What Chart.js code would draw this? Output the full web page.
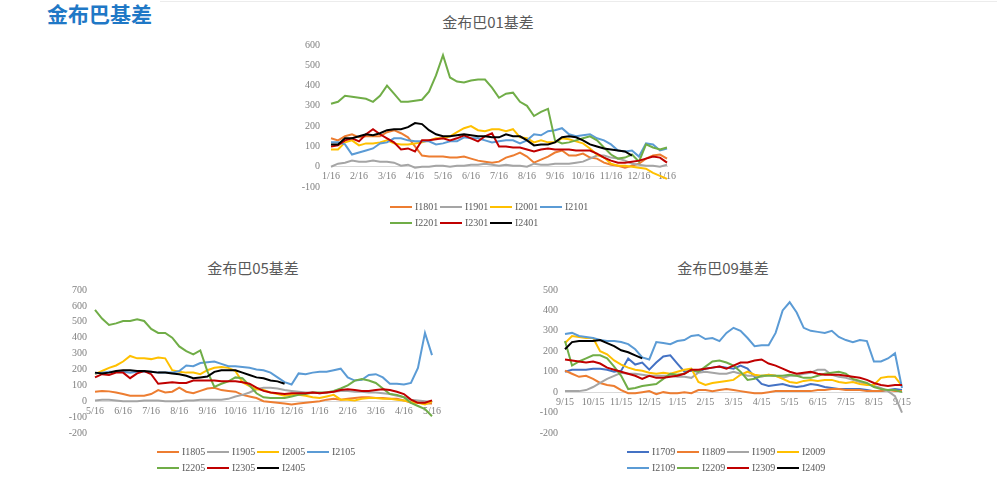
<!DOCTYPE html>
<html>
<head>
<meta charset="utf-8">
<script src="https://cdn.jsdelivr.net/npm/chart.js@4.4.0/dist/chart.umd.min.js"></script>
<style>
  body { margin: 0; width: 997px; height: 477px; background: #fff; position: relative; overflow: hidden; }
  canvas { position: absolute; }
  .topline { position: absolute; left: 160px; top: 1px; width: 837px; height: 1px; background: #ececec; }
  h1 { position: absolute; left: 47px; top: 0; margin: 0; font: bold 21px/26px 'Noto Sans CJK SC'; color: #1f78c6; }
  .title { position: absolute; font: 15px/20px 'Noto Sans CJK SC'; color: #595959; transform: translateX(-50%); white-space: nowrap; }
  .lg { position: absolute; height: 12px; font: 10px/12px 'Liberation Serif', serif; color: #595959; white-space: nowrap; }
  .lg i { position: absolute; left: 0; top: 5px; width: 22px; height: 2px; }
  .lg b { position: absolute; left: 25px; top: 0; font-weight: normal; }
</style>
</head>
<body>
<div class="topline"></div>
<h1>金布巴基差</h1>
<div class="title" style="left:488px;top:12px">金布巴01基差</div>
<div class="title" style="left:253px;top:258px">金布巴05基差</div>
<div class="title" style="left:723px;top:258px">金布巴09基差</div>
<canvas id="c01" width="396" height="162" style="left:291px;top:35px"></canvas>
<canvas id="c05" width="392" height="163" style="left:60px;top:280px"></canvas>
<canvas id="c09" width="392" height="163" style="left:530px;top:280px"></canvas>
<script>
// 月份刻度（每月4个周度点）
var ticks01 = ['1/16','2/16','3/16','4/16','5/16','6/16','7/16','8/16','9/16','10/16','11/16','12/16','1/16'];
var ticks05 = ['5/16','6/16','7/16','8/16','9/16','10/16','11/16','12/16','1/16','2/16','3/16','4/16','5/16'];
var ticks09 = ['9/15','10/15','11/15','12/15','1/15','2/15','3/15','4/15','5/15','6/15','7/15','8/15','9/15'];

// 01合约基差
var names01 = ['I1801','I1901','I2001','I2101','I2201','I2301','I2401'];
var i1801 = [140,130,150,160,145,150,150,150,170,180,165,145,100,55,50,50,50,45,45,50,40,30,25,20,25,45,55,70,50,20,35,50,70,80,55,55,65,45,40,20,10,5,-5,5,15,40,55,60,40];
var i1901 = [0,15,20,30,25,25,30,25,25,20,5,10,-5,0,0,5,5,0,5,5,10,10,15,10,5,10,5,5,0,15,10,10,15,15,15,20,25,40,55,55,45,40,30,15,10,5,5,0,10];
var i2001 = [85,85,120,130,105,115,115,120,130,115,110,110,115,120,130,140,140,150,170,190,200,180,175,185,185,175,185,145,140,120,130,120,120,140,135,125,115,90,60,45,15,5,5,0,-5,-10,-30,-45,-60];
var i2101 = [120,120,110,60,70,80,90,115,120,140,140,130,125,125,125,110,115,125,125,145,140,140,130,120,125,130,130,115,130,160,155,175,180,190,160,150,155,160,140,130,110,80,75,80,50,115,110,80,90];
var i2201 = [310,320,350,345,340,335,320,350,400,360,320,320,325,330,370,450,550,440,420,415,425,430,430,390,340,360,365,320,300,250,270,285,130,115,120,130,140,150,130,95,60,40,45,60,25,110,95,85,95];
var i2301 = [100,105,130,140,125,160,185,160,140,120,85,90,75,130,130,135,140,130,140,155,140,125,150,165,100,100,95,95,85,75,85,90,85,85,85,80,80,80,65,45,30,20,20,25,30,40,50,45,20];
var i2401 = [110,110,140,140,150,160,155,165,180,185,185,195,215,210,180,160,150,150,155,160,155,150,150,145,145,160,150,150,130,105,110,110,120,145,150,145,130,110,100,90,85,80,75,55,null,null,null,null,null];

// 05合约基差
var names05 = ['I1805','I1905','I2005','I2105','I2205','I2305','I2405'];
var i1805 = [60,65,62,55,45,35,35,35,45,70,55,60,85,60,50,65,80,85,70,65,60,40,30,20,0,-5,-10,-15,-20,-15,-10,-5,0,10,15,10,15,20,25,25,20,20,15,15,5,-10,-10,-15,-15];
var i1905 = [5,10,10,5,0,0,0,5,5,5,0,0,0,5,5,10,10,10,10,15,30,40,55,75,85,85,80,70,65,60,55,55,50,55,60,65,65,60,60,55,55,50,45,35,25,10,5,0,-5];
var i2005 = [170,190,210,225,250,285,270,270,265,275,270,195,185,180,180,170,195,210,215,210,190,120,95,75,70,55,45,35,40,40,35,25,20,30,40,10,10,5,15,20,20,15,15,10,5,-5,-10,-20,0];
var i2105 = [175,180,185,185,185,180,185,185,185,180,180,180,190,225,220,240,245,250,235,220,220,215,210,200,195,180,150,120,105,175,170,180,185,185,195,205,150,130,135,165,170,150,110,110,105,115,210,430,290];
var i2205 = [575,520,480,490,505,505,515,505,455,430,430,400,345,315,295,320,190,90,110,125,150,145,100,50,25,20,20,20,30,40,45,55,55,55,65,80,100,130,140,130,115,80,45,40,25,-10,-30,-50,-95];
var i2305 = [150,170,165,180,180,145,175,190,170,110,115,120,115,115,130,130,130,130,125,125,125,120,110,85,65,55,50,45,50,50,50,55,50,55,60,70,75,70,65,65,70,75,70,60,45,10,-10,-10,5];
var i2405 = [180,175,180,190,195,195,190,190,185,180,180,175,170,160,145,150,155,185,195,195,195,180,165,150,145,130,125,110,null,null,null,null,null,null,null,null,null,null,null,null,null,null,null,null,null,null,null,null,null];

// 09合约基差
var names09 = ['I1709','I1809','I1909','I2009','I2109','I2209','I2309','I2409'];
var i1709 = [100,110,110,110,115,115,110,100,105,165,135,145,110,145,175,180,140,100,105,100,115,120,125,120,115,130,115,75,40,30,35,40,30,25,30,40,35,25,20,15,15,15,15,10,5,5,10,15,10];
var i1809 = [105,90,75,80,65,45,35,30,10,-5,-5,0,5,-10,0,-5,-5,0,-5,10,10,5,10,15,10,5,0,-5,-5,0,5,5,5,5,5,5,10,10,15,15,10,10,10,5,5,5,10,5,5];
var i1909 = [5,5,5,10,25,45,65,80,95,90,90,85,80,80,80,80,75,75,70,95,100,95,90,90,100,90,80,80,75,85,80,70,80,80,90,95,110,110,85,75,70,60,50,40,30,20,5,-20,-100];
var i2009 = [240,275,270,265,265,200,185,155,135,120,110,105,95,90,95,90,100,110,115,50,35,45,50,55,60,85,100,85,80,85,80,65,50,45,55,60,55,60,60,50,45,50,40,35,35,70,75,75,30];
var i2109 = [285,290,275,270,265,255,250,250,245,235,210,170,160,245,240,235,250,255,275,280,260,265,250,290,315,300,265,225,230,230,290,400,440,390,315,300,295,290,300,270,255,245,255,250,150,150,165,190,20];
var i2209 = [250,130,150,165,180,180,165,125,80,15,20,30,35,40,65,90,85,90,110,100,125,150,155,145,130,100,60,65,80,80,80,80,85,80,70,70,80,90,95,100,90,65,55,45,25,15,10,10,0];
var i2309 = [160,155,150,145,150,140,120,110,100,90,80,65,80,70,70,75,80,90,110,110,115,120,125,115,130,145,145,155,160,140,130,115,100,90,95,100,90,85,85,85,80,75,70,60,45,35,30,35,35];
var i2409 = [210,245,250,250,250,255,240,225,205,195,180,165,null,null,null,null,null,null,null,null,null,null,null,null,null,null,null,null,null,null,null,null,null,null,null,null,null,null,null,null,null,null,null,null,null,null,null,null,null];

var orange = '#ed7d31', gray = '#a5a5a5', yellow = '#ffc000', blue = '#5b9bd5',
    green = '#70ad47', red = '#c00000', black = '#000000', navy = '#4472c4';

function weekLabels(months) {
    var out = [];
    months.forEach(function (m, k) {
        out.push(m);
        if (k < months.length - 1) out.push('', '', '');
    });
    return out;
}

function makeChart(id, months, names, series, colors, yMin, yMax, yWidth, gap) {
    var n = series.length;
    var datasets = series.map(function (d, k) {
        return {
            label: names[k],
            data: d,
            borderColor: colors[k],
            backgroundColor: colors[k],
            borderWidth: 2,
            pointRadius: 0,
            tension: 0,
            fill: false,
            order: n - k
        };
    });
    var tickFont = { family: 'Liberation Serif', size: 10 };
    return new Chart(document.getElementById(id), {
        type: 'line',
        data: { labels: weekLabels(months), datasets: datasets },
        options: {
            responsive: false,
            maintainAspectRatio: false,
            animation: false,
            layout: { padding: { top: 4, bottom: 4, right: 20, left: 0 } },
            plugins: { legend: { display: false }, tooltip: { enabled: false } },
            scales: {
                x: {
                    type: 'category',
                    position: { y: 0 },
                    grid: { display: false, drawTicks: false },
                    border: { display: true, color: '#d9d9d9', width: 1 },
                    ticks: { autoSkip: false, maxRotation: 0, minRotation: 0, padding: 4, font: tickFont, color: '#7f7f7f' }
                },
                y: {
                    min: yMin,
                    max: yMax,
                    grid: { display: false, drawTicks: false },
                    border: { display: false },
                    ticks: { stepSize: 100, padding: gap, font: tickFont, color: '#7f7f7f' },
                    afterFit: function (s) { s.width = yWidth; }
                }
            }
        }
    });
}

// 把绘图区对齐到页面上的目标位置
function placeArea(chart, l, t, r, b) {
    var a = chart.chartArea;
    var padL = a.left, padT = a.top, padR = chart.width - a.right, padB = chart.height - a.bottom;
    chart.canvas.style.left = (l - padL) + 'px';
    chart.canvas.style.top = (t - padT) + 'px';
    chart.resize(Math.round(padL + (r - l) + padR), Math.round(padT + (b - t) + padB));
}

// HTML 图例，两行，每行4项
function makeLegend(chart, left, top) {
    chart.data.datasets.forEach(function (ds, k) {
        var el = document.createElement('div');
        el.className = 'lg';
        el.style.left = (left + (k % 4) * 50) + 'px';
        el.style.top = (top + Math.floor(k / 4) * 16) + 'px';
        el.innerHTML = '<i style="background:' + ds.borderColor + '"></i><b>' + ds.label + '</b>';
        document.body.appendChild(el);
    });
}

var chart01 = makeChart('c01', ticks01, names01,
    [i1801, i1901, i2001, i2101, i2201, i2301, i2401],
    [orange, gray, yellow, blue, green, red, black], -100, 600, 40, 11);
var chart05 = makeChart('c05', ticks05, names05,
    [i1805, i1905, i2005, i2105, i2205, i2305, i2405],
    [orange, gray, yellow, blue, green, red, black], -200, 700, 35, 8);
var chart09 = makeChart('c09', ticks09, names09,
    [i1709, i1809, i1909, i2009, i2109, i2209, i2309, i2409],
    [navy, orange, gray, yellow, blue, green, red, black], -200, 500, 35, 7);

placeArea(chart01, 331, 45, 667, 187);
placeArea(chart05, 95, 290, 432, 433);
placeArea(chart09, 565, 290, 902, 433);

makeLegend(chart01, 390, 201);
makeLegend(chart05, 157, 446);
makeLegend(chart09, 627, 446);
</script>
</body>
</html>
